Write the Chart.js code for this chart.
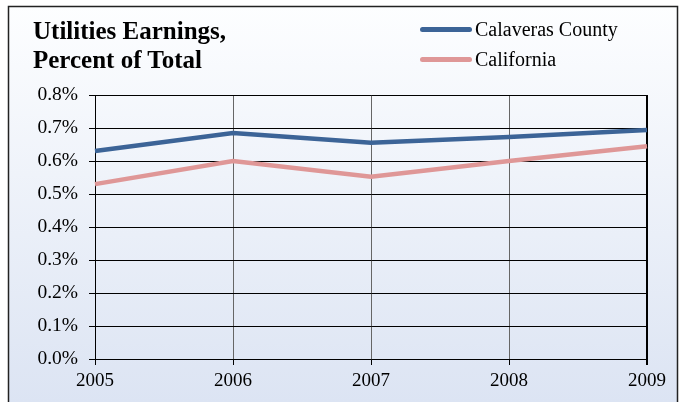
<!DOCTYPE html>
<html>
<head>
<meta charset="utf-8">
<script src="https://cdn.jsdelivr.net/npm/chart.js@4/dist/chart.umd.min.js"></script>
<style>
  body { margin: 0; background: #fff; }
  #wrap { position: relative; width: 686px; height: 402px; }
  #title { position: absolute; left: 33px; top: 16px; font: bold 25px "Liberation Serif", serif; line-height: 29px; color: #000; }
  #legend { position: absolute; left: 420px; top: 14px; font: 20px "Liberation Serif", serif; color: #000; }
  .item { display: flex; align-items: center; height: 30px; }
  .swatch { width: 52px; height: 5px; border-radius: 3px; margin-right: 3px; }
</style>
</head>
<body>
<div id="wrap">
  <canvas id="myChart" width="686" height="402"></canvas>
  <div id="title">Utilities Earnings,<br>Percent of Total</div>
  <div id="legend"></div>
</div>
<script>
const years = ['2005', '2006', '2007', '2008', '2009'];
const calaveras = [0.630, 0.685, 0.655, 0.673, 0.694];
const california = [0.530, 0.600, 0.552, 0.600, 0.645];
const yTicks = [0.0, 0.1, 0.2, 0.3, 0.4, 0.5, 0.6, 0.7, 0.8];

const ctxChart = document.getElementById('myChart');

// background gradient and outer frame
const framePlugin = {
    id: 'frame',
    beforeDraw(chart) {
        const c = chart.ctx;
        const g = c.createLinearGradient(0, 6, 0, 402);
        g.addColorStop(0, '#fdfeff');
        g.addColorStop(1, '#dce4f3');
        c.save();
        c.fillStyle = g;
        c.fillRect(8, 6, 670, 400);
        c.strokeStyle = '#222';
        c.lineWidth = 1.5;
        c.strokeRect(8.5, 6.5, 669, 400);
        c.restore();
    }
};

const myChart = new Chart(ctxChart, {
    type: 'line',
    data: {
        labels: years,
        datasets: [{
            label: 'Calaveras County',
            data: calaveras,
            borderColor: '#3c6497',
            borderWidth: 4.5,
            pointRadius: 0
        }, {
            label: 'California',
            data: california,
            borderColor: '#df9797',
            borderWidth: 4.5,
            pointRadius: 0
        }]
    },
    options: {
        responsive: false,
        animation: false,
        layout: { padding: { top: 95, right: 39, left: 0, bottom: 0 } },
        plugins: { legend: { display: false }, title: { display: false }, tooltip: { enabled: false } },
        scales: {
            x: {
                offset: false,
                grid: {
                    color: (c) => c.index === years.length - 1 ? '#000' : '#666',
                    lineWidth: (c) => c.index === years.length - 1 ? 2 : 1,
                    tickLength: 6,
                    tickColor: '#000'
                },
                border: { color: '#000', width: 1 },
                ticks: {
                    color: '#000',
                    padding: 5,
                    maxRotation: 0,
                    font: { family: 'Liberation Serif', size: 19 }
                },
                afterFit(scale) { scale.height = 43; }
            },
            y: {
                min: 0,
                max: 0.8,
                afterBuildTicks(scale) { scale.ticks = yTicks.map(v => ({ value: v })); },
                grid: { color: '#000', lineWidth: 1, tickLength: 6, tickColor: '#000' },
                border: { color: '#000', width: 1 },
                ticks: {
                    color: '#000',
                    padding: 11,
                    font: { family: 'Liberation Serif', size: 19.5 },
                    callback: (v) => v.toFixed(1) + '%'
                },
                afterFit(scale) { scale.width = 95; }
            }
        }
    },
    plugins: [framePlugin]
});

const legendBox = document.getElementById('legend');
myChart.data.datasets.forEach((ds) => {
    const row = document.createElement('div');
    row.className = 'item';
    row.innerHTML = '<span class="swatch" style="background:' + ds.borderColor + '"></span>' + ds.label;
    legendBox.appendChild(row);
});
</script>
</body>
</html>
